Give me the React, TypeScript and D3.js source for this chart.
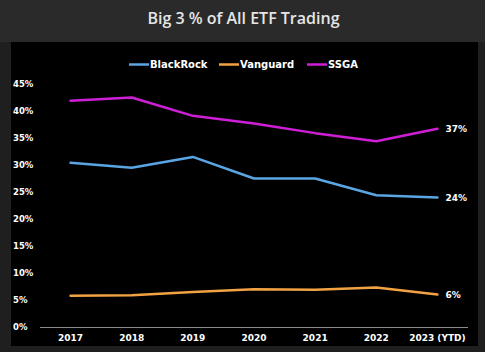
import { useEffect } from "react";
import * as d3 from "d3";

const years = ["2017", "2018", "2019", "2020", "2021", "2022", "2023 (YTD)"];
const blackRock = [30.4, 29.5, 31.5, 27.5, 27.5, 24.4, 24.0];
const vanguard = [5.8, 5.9, 6.5, 7.0, 6.9, 7.3, 6.0];
const ssga = [41.9, 42.5, 39.1, 37.7, 35.9, 34.4, 36.7];
const yTicks = [0, 5, 10, 15, 20, 25, 30, 35, 40, 45];
const endLabels = ["24%", "6%", "37%"];

const series = [
  { name: "BlackRock", values: blackRock, color: "#5aa5e3", end: endLabels[0] },
  { name: "Vanguard", values: vanguard, color: "#f2a243", end: endLabels[1] },
  { name: "SSGA", values: ssga, color: "#cf1fd6", end: endLabels[2] },
];

const W = 485;
const H = 352;
const FONT = "'DejaVu Sans', Verdana, sans-serif";

export default function App() {
  useEffect(() => {
    document.body.style.margin = "0";
  }, []);

  const x = d3.scalePoint<string>().domain(years).range([40, 468]).padding(0.5);
  const y = d3.scaleLinear().domain([0, 45]).range([327, 84]);

  const line = d3
    .line<number>()
    .x((d, i) => x(years[i]) as number)
    .y((d) => y(d));

  const lastX = x(years[years.length - 1]) as number;

  // legend layout
  const legendItems = [
    { lx: 129, tx: 150 },
    { lx: 219, tx: 240 },
    { lx: 307, tx: 328 },
  ];

  return (
    <svg width={W} height={H} style={{ display: "block", position: "absolute", left: 0, top: 0 }}>
      <rect x={0} y={0} width={W} height={H} fill="#1f1f1f" />
      <rect x={0} y={0} width={W} height={42} fill="#2a2a2a" />
      <text
        x={W / 2 + 1}
        y={23.5}
        textAnchor="middle"
        fill="#e6e6e6"
        fontFamily="'Open Sans', sans-serif"
        fontWeight={600}
        fontSize={16}
      >
        Big 3 % of All ETF Trading
      </text>
      <rect x={11} y={42} width={467} height={304} fill="#000" />

      {/* legend */}
      {series.map((s, i) => (
        <g key={s.name}>
          <line
            x1={legendItems[i].lx}
            x2={legendItems[i].lx + 20}
            y1={64.5}
            y2={64.5}
            stroke={s.color}
            strokeWidth={2.5}
          />
          <text
            x={legendItems[i].tx}
            y={68}
            fill="#fff"
            fontFamily={FONT}
            fontWeight="bold"
            fontSize={10}
          >
            {s.name}
          </text>
        </g>
      ))}

      {/* y axis labels */}
      {yTicks.map((t) => (
        <text
          key={t}
          x={13}
          y={y(t) + 3}
          fill="#fff"
          fontFamily={FONT}
          fontWeight="bold"
          fontSize={8.5}
        >
          {t}%
        </text>
      ))}

      {/* baseline */}
      <line x1={40} x2={468} y1={y(0) + 0.5} y2={y(0) + 0.5} stroke="#8a8a8a" strokeWidth={1} />

      {/* x labels */}
      {years.map((yr) => (
        <text
          key={yr}
          x={x(yr) as number}
          y={341}
          textAnchor="middle"
          fill="#fff"
          fontFamily={FONT}
          fontWeight="bold"
          fontSize={9}
        >
          {yr}
        </text>
      ))}

      {/* lines */}
      {series.map((s) => (
        <path
          key={s.name}
          d={line(s.values) || ""}
          fill="none"
          stroke={s.color}
          strokeWidth={2.5}
          strokeLinejoin="round"
          strokeLinecap="round"
        />
      ))}

      {/* end labels */}
      {series.map((s) => (
        <text
          key={s.name + "-end"}
          x={lastX + 8}
          y={y(s.values[s.values.length - 1]) + 3.5}
          fill="#fff"
          fontFamily={FONT}
          fontWeight="bold"
          fontSize={9}
        >
          {s.end}
        </text>
      ))}
    </svg>
  );
}
